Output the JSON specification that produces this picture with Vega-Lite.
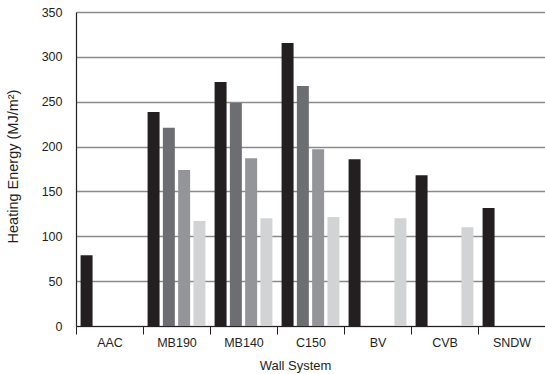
{
  "$schema": "https://vega.github.io/schema/vega-lite/v6.json",
  "width": 469,
  "height": 314,
  "autosize": {"type": "none"},
  "padding": {"left": 76, "top": 12, "right": 0, "bottom": 48},
  "background": "white",
  "config": {
    "view": {"stroke": null},
    "font": "Liberation Sans",
    "axis": {"labelFont": "Liberation Sans", "titleFont": "Liberation Sans", "labelColor": "#231f20", "titleColor": "#231f20", "titleFontWeight": "normal"}
  },
  "data": {
    "values": [
      {"wall": "AAC", "s": "A", "v": 79},
      {"wall": "MB190", "s": "A", "v": 238.5},
      {"wall": "MB190", "s": "B", "v": 221},
      {"wall": "MB190", "s": "C", "v": 174},
      {"wall": "MB190", "s": "D", "v": 117},
      {"wall": "MB140", "s": "A", "v": 272},
      {"wall": "MB140", "s": "B", "v": 248.5},
      {"wall": "MB140", "s": "C", "v": 187},
      {"wall": "MB140", "s": "D", "v": 120},
      {"wall": "C150", "s": "A", "v": 315.5},
      {"wall": "C150", "s": "B", "v": 267.5},
      {"wall": "C150", "s": "C", "v": 197},
      {"wall": "C150", "s": "D", "v": 121.5},
      {"wall": "BV", "s": "A", "v": 186},
      {"wall": "BV", "s": "D", "v": 120},
      {"wall": "CVB", "s": "A", "v": 168},
      {"wall": "CVB", "s": "D", "v": 110},
      {"wall": "SNDW", "s": "A", "v": 131.5}
    ]
  },
  "mark": {"type": "bar"},
  "encoding": {
    "x": {
      "field": "wall", "type": "nominal",
      "sort": ["AAC", "MB190", "MB140", "C150", "BV", "CVB", "SNDW"],
      "scale": {"paddingInner": 0, "paddingOuter": 0},
      "axis": {
        "title": "Wall System", "titleFontSize": 13, "titleX": 219, "titleY": 33,
        "labelAngle": 0, "labelFontSize": 12.5, "labelPadding": 2,
        "tickBand": "extent", "tickSize": 8, "tickColor": "#231f20", "tickWidth": 1,
        "domainColor": "#231f20", "domainWidth": 1.2
      }
    },
    "xOffset": {
      "field": "s", "type": "nominal",
      "scale": {"domain": ["A", "B", "C", "D"], "paddingInner": 0.216, "paddingOuter": 0.3}
    },
    "y": {
      "field": "v", "type": "quantitative",
      "scale": {"domain": [0, 350], "nice": false},
      "axis": {
        "title": "Heating Energy (MJ/m²)", "titleFontSize": 14.5, "titleX": -56, "titleY": 154,
        "values": [0, 50, 100, 150, 200, 250, 300, 350],
        "labelFontSize": 12.5, "labelPadding": 14, "ticks": false,
        "domainColor": "#231f20", "domainWidth": 1.2,
        "grid": true, "gridColor": "#8a8a8a", "gridWidth": 1.3
      }
    },
    "color": {
      "field": "s", "type": "nominal",
      "scale": {"domain": ["A", "B", "C", "D"], "range": ["#231f20", "#6d6e71", "#939598", "#d1d3d4"]},
      "legend": null
    }
  }
}
